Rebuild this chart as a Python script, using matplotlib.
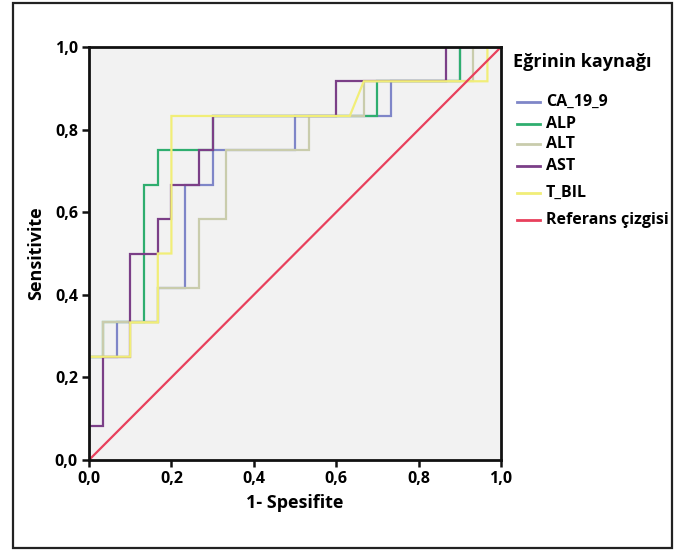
import matplotlib
matplotlib.use("Agg")
import matplotlib.pyplot as plt
from matplotlib.lines import Line2D
from matplotlib.patches import Rectangle

plt.rcParams['font.family'] = ['Open Sans', 'DejaVu Sans']

# ─── Datos (pasos ROC) ────────────────────────────────────────────────────
ca_x  = [0, 0, 0.067, 0.067, 0.167, 0.167, 0.233, 0.233, 0.3, 0.3, 0.5, 0.5, 0.733, 0.733, 0.9, 0.9, 1]
ca_y  = [0, 0.25, 0.25, 0.333, 0.333, 0.417, 0.417, 0.667, 0.667, 0.75, 0.75, 0.833, 0.833, 0.917, 0.917, 1, 1]

alp_x = [0, 0, 0.033, 0.033, 0.133, 0.133, 0.167, 0.167, 0.3, 0.3, 0.7, 0.7, 0.9, 0.9, 1]
alp_y = [0, 0.25, 0.25, 0.333, 0.333, 0.667, 0.667, 0.75, 0.75, 0.833, 0.833, 0.917, 0.917, 1, 1]

alt_x = [0, 0, 0.033, 0.033, 0.167, 0.167, 0.267, 0.267, 0.333, 0.333, 0.533, 0.533, 0.667, 0.667, 0.933, 0.933, 1]
alt_y = [0, 0.25, 0.25, 0.333, 0.333, 0.417, 0.417, 0.583, 0.583, 0.75, 0.75, 0.833, 0.833, 0.917, 0.917, 1, 1]

ast_x = [0, 0, 0.033, 0.033, 0.1, 0.1, 0.167, 0.167, 0.2, 0.2, 0.267, 0.267, 0.3, 0.3, 0.6, 0.6, 0.867, 0.867, 1]
ast_y = [0, 0.083, 0.083, 0.25, 0.25, 0.5, 0.5, 0.583, 0.583, 0.667, 0.667, 0.75, 0.75, 0.833, 0.833, 0.917, 0.917, 1, 1]

tb_x  = [0, 0, 0.1, 0.1, 0.167, 0.167, 0.2, 0.2, 0.633, 0.667, 0.967, 0.967, 1]
tb_y  = [0, 0.25, 0.25, 0.333, 0.333, 0.5, 0.5, 0.833, 0.833, 0.917, 0.917, 1, 1]

ref_x = [0, 1]
ref_y = [0, 1]

series = [
    ("CA_19_9", ca_x, ca_y, "#7f86c8"),
    ("ALP", alp_x, alp_y, "#2fae6f"),
    ("ALT", alt_x, alt_y, "#c9ccac"),
    ("AST", ast_x, ast_y, "#7b3f87"),
    ("T_BIL", tb_x, tb_y, "#f1ee78"),
]
C_REF = "#e8405c"

ticks = [0.0, 0.2, 0.4, 0.6, 0.8, 1.0]
tick_labels = ["0,0", "0,2", "0,4", "0,6", "0,8", "1,0"]

# ─── Figura ───────────────────────────────────────────────────────────────
W, H = 676, 551
fig = plt.figure(figsize=(W / 100, H / 100), dpi=100, facecolor="white")

# marco exterior
fig.patches.append(Rectangle((13 / W, 3 / H), 659 / W, 545 / H, transform=fig.transFigure,
                             fill=False, edgecolor="#222222", lw=1.6))

ax = fig.add_axes([89 / W, (H - 460) / H, 412 / W, 413 / H])
ax.set_facecolor("#f2f2f2")

for nombre, xs, ys, col in series:
    ax.plot(xs, ys, color=col, lw=1.6, solid_joinstyle="miter")
ax.plot(ref_x, ref_y, color=C_REF, lw=1.6)

ax.set_xlim(0, 1)
ax.set_ylim(0, 1)
ax.set_xticks(ticks)
ax.set_yticks(ticks)
ax.set_xticklabels(tick_labels, fontsize=11.5, fontweight="bold")
ax.set_yticklabels(tick_labels, fontsize=11.5, fontweight="bold")
ax.tick_params(direction="out", length=5, width=1.8, color="#111111", pad=3)
for sp in ax.spines.values():
    sp.set_linewidth(2)
    sp.set_edgecolor("#111111")

ax.set_xlabel("1- Spesifite", fontsize=13, fontweight="bold", labelpad=5)
ax.set_ylabel("Sensitivite", fontsize=13, fontweight="bold", labelpad=7)

# leyenda manual
fig.text(513 / W, 1 - 62 / H, "Eğrinin kaynağı", fontsize=13, fontweight="bold", va="center")
leg_y = [102, 124, 144, 166, 193, 220]
leg_items = [(n, c) for n, _, _, c in series] + [("Referans çizgisi", C_REF)]
for (nombre, col), yy in zip(leg_items, leg_y):
    fy = 1 - yy / H
    fig.lines.append(Line2D([517 / W, 540 / W], [fy, fy], transform=fig.transFigure,
                            color=col, lw=2))
    fig.text(546 / W, fy, nombre, fontsize=11.5, fontweight="bold", va="center")

fig.savefig("out.png", dpi=100, facecolor="white")
